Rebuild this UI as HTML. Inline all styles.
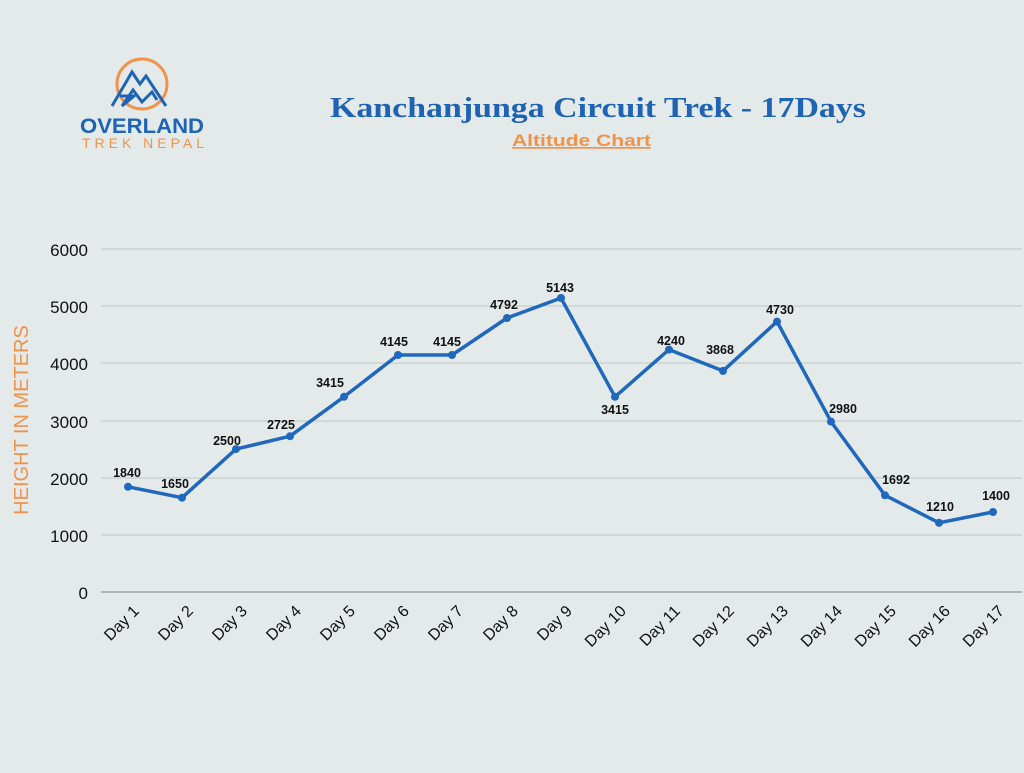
<!DOCTYPE html>
<html><head><meta charset="utf-8"><style>
body{margin:0;width:1024px;height:768px;background:#e4eaea;overflow:hidden;font-family:"Liberation Sans",sans-serif}
</style></head><body>
<svg width="1024" height="768" xmlns="http://www.w3.org/2000/svg">
<rect width="1024" height="768" fill="#e4eaea"/>
<circle cx="142" cy="84" r="25" fill="none" stroke="#f0924a" stroke-width="3"/>
<polyline points="112,106 132,72 140,84 146,76 166,106" fill="none" stroke="#1f63b5" stroke-width="3"/>
<polyline points="120,96 134,96 122,106 133,90 142,102 152,92 157,100" fill="none" stroke="#1f63b5" stroke-width="3"/>
<text x="80" y="133" textLength="124" lengthAdjust="spacingAndGlyphs" font-size="21" font-weight="bold" fill="#1f63b5">OVERLAND</text>
<text x="82" y="148" textLength="122" font-size="14" fill="#f0924a">TREK NEPAL</text>
<text x="330" y="117" textLength="536" lengthAdjust="spacingAndGlyphs" font-family="Liberation Serif,serif" font-size="28" font-weight="bold" fill="#1f63b5">Kanchanjunga Circuit Trek - 17Days</text>
<text x="512" y="146" textLength="139" lengthAdjust="spacingAndGlyphs" font-size="17" font-weight="bold" fill="#f0924a" text-decoration="underline">Altitude Chart</text>
<g stroke="#bfc6c6" stroke-width="1">
<line x1="101" x2="1022" y1="249" y2="249"/><line x1="101" x2="1022" y1="306" y2="306"/>
<line x1="101" x2="1022" y1="363" y2="363"/><line x1="101" x2="1022" y1="421" y2="421"/>
<line x1="101" x2="1022" y1="478" y2="478"/><line x1="101" x2="1022" y1="535" y2="535"/>
</g>
<line x1="101" x2="1022" y1="592" y2="592" stroke="#9ea5a5" stroke-width="1.5"/>
<g font-size="17" fill="#111" text-anchor="end">
<text x="88" y="256">6000</text><text x="88" y="313">5000</text><text x="88" y="370">4000</text>
<text x="88" y="428">3000</text><text x="88" y="485">2000</text><text x="88" y="542">1000</text><text x="88" y="599">0</text>
</g>
<text transform="translate(28,420) rotate(-90)" text-anchor="middle" font-size="20" fill="#f0924a">HEIGHT IN METERS</text>
<polyline fill="none" stroke="#1f68bd" stroke-width="3.5" stroke-linejoin="round" points="128,486.8 182,497.7 236,449.1 290,436.2 344,396.8 398,355.0 452,355.0 507,318.0 561,298.0 615,396.8 669,349.6 723,370.9 777,321.6 831,421.6 885,495.3 939,522.8 993,512.0"/>
<g fill="#1f68bd">
<circle cx="128" cy="486.8" r="4"/><circle cx="182" cy="497.7" r="4"/><circle cx="236" cy="449.1" r="4"/><circle cx="290" cy="436.2" r="4"/><circle cx="344" cy="396.8" r="4"/><circle cx="398" cy="355" r="4"/><circle cx="452" cy="355" r="4"/><circle cx="507" cy="318" r="4"/><circle cx="561" cy="298" r="4"/><circle cx="615" cy="396.8" r="4"/><circle cx="669" cy="349.6" r="4"/><circle cx="723" cy="370.9" r="4"/><circle cx="777" cy="321.6" r="4"/><circle cx="831" cy="421.6" r="4"/><circle cx="885" cy="495.3" r="4"/><circle cx="939" cy="522.8" r="4"/><circle cx="993" cy="512" r="4"/>
</g>
<g font-size="12.5" font-weight="bold" fill="#111" text-anchor="middle">
<text x="127" y="477">1840</text><text x="175" y="488">1650</text><text x="227" y="445">2500</text><text x="281" y="429">2725</text><text x="330" y="387">3415</text><text x="394" y="346">4145</text><text x="447" y="346">4145</text><text x="504" y="309">4792</text><text x="560" y="292">5143</text><text x="615" y="414">3415</text><text x="671" y="345">4240</text><text x="720" y="354">3868</text><text x="780" y="314">4730</text><text x="843" y="413">2980</text><text x="896" y="484">1692</text><text x="940" y="511">1210</text><text x="996" y="500">1400</text>
</g>
<g font-size="16" fill="#111" text-anchor="end">
<text transform="translate(140,612) rotate(-45)">Day 1</text>
<text transform="translate(194,612) rotate(-45)">Day 2</text>
<text transform="translate(248,612) rotate(-45)">Day 3</text>
<text transform="translate(302,612) rotate(-45)">Day 4</text>
<text transform="translate(356,612) rotate(-45)">Day 5</text>
<text transform="translate(410,612) rotate(-45)">Day 6</text>
<text transform="translate(464,612) rotate(-45)">Day 7</text>
<text transform="translate(519,612) rotate(-45)">Day 8</text>
<text transform="translate(573,612) rotate(-45)">Day 9</text>
<text transform="translate(627,612) rotate(-45)">Day 10</text>
<text transform="translate(681,612) rotate(-45)">Day 11</text>
<text transform="translate(735,612) rotate(-45)">Day 12</text>
<text transform="translate(789,612) rotate(-45)">Day 13</text>
<text transform="translate(843,612) rotate(-45)">Day 14</text>
<text transform="translate(897,612) rotate(-45)">Day 15</text>
<text transform="translate(951,612) rotate(-45)">Day 16</text>
<text transform="translate(1005,612) rotate(-45)">Day 17</text>
</g>
</svg>
</body></html>
